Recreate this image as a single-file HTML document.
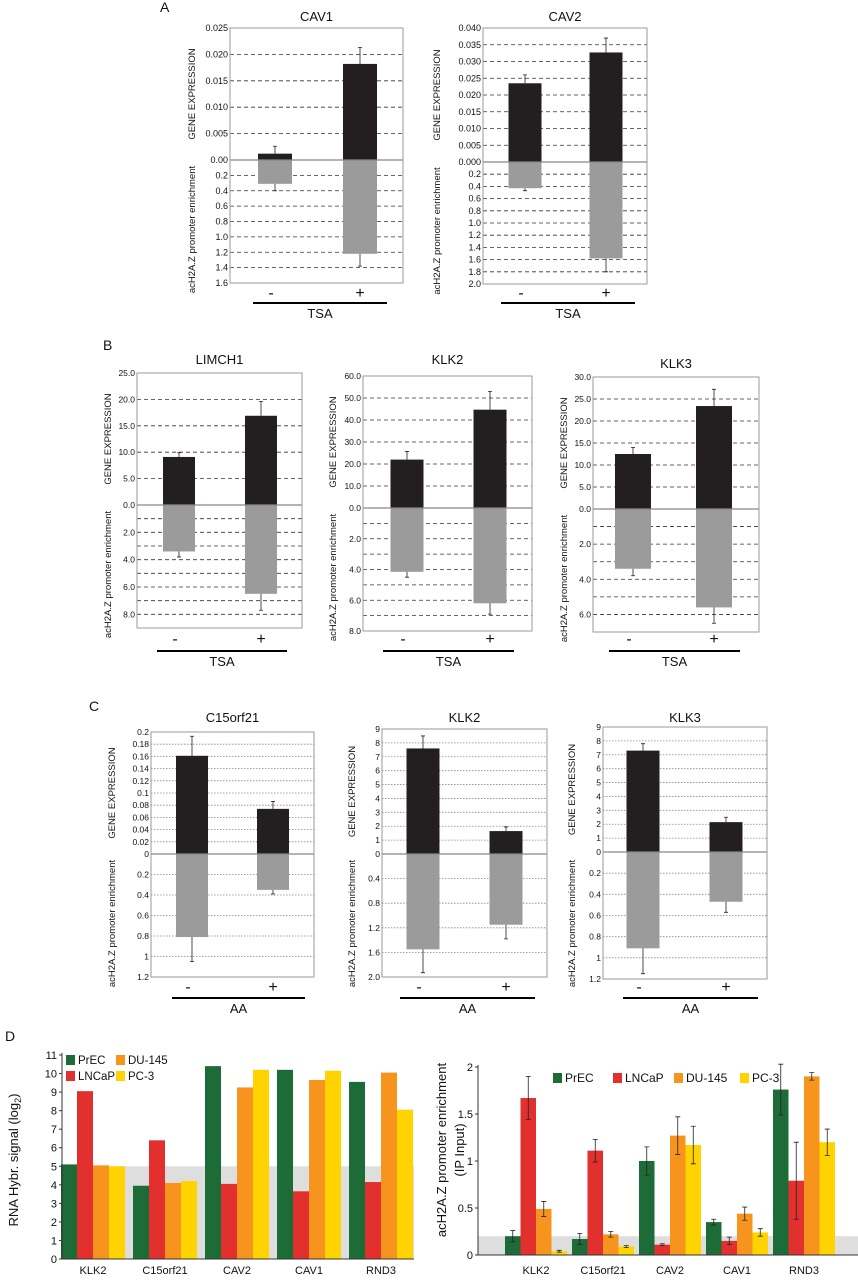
<!DOCTYPE html>
<html><head><meta charset="utf-8"><style>
body{margin:0;background:#fff}
svg{display:block;font-family:"Liberation Sans",Arial,sans-serif}
</style></head><body>
<svg id="fig" width="858" height="1280" viewBox="0 0 858 1280" xmlns="http://www.w3.org/2000/svg"></svg>
<script>
// ---------- Panel A/B/C data ----------
const cav1Up=[0.0012,0.0182], cav1UpErr=[0.0026,0.0213], cav1Down=[0.31,1.22], cav1DownErr=[0.40,1.38];
const cav2Up=[0.0235,0.0327], cav2UpErr=[0.026,0.037], cav2Down=[0.43,1.58], cav2DownErr=[0.47,1.80];
const limUp=[9.1,16.9], limUpErr=[9.9,19.6], limDown=[3.4,6.5], limDownErr=[3.8,7.7];
const bk2Up=[22,44.7], bk2UpErr=[25.7,53], bk2Down=[4.15,6.2], bk2DownErr=[4.5,6.9];
const bk3Up=[12.5,23.4], bk3UpErr=[14,27.2], bk3Down=[3.4,5.6], bk3DownErr=[3.8,6.5];
const c15Up=[0.161,0.074], c15UpErr=[0.193,0.086], c15Down=[0.81,0.35], c15DownErr=[1.05,0.39];
const ck2Up=[7.6,1.65], ck2UpErr=[8.5,1.95], ck2Down=[1.55,1.15], ck2DownErr=[1.93,1.38];
const ck3Up=[7.3,2.15], ck3UpErr=[7.8,2.5], ck3Down=[0.91,0.47], ck3DownErr=[1.15,0.57];
const cav1UpTicks=["0.00","0.005","0.010","0.015","0.020","0.025"], cav1DownTicks=["0.2","0.4","0.6","0.8","1.0","1.2","1.4","1.6"];
const cav2UpTicks=["0.000","0.005","0.010","0.015","0.020","0.025","0.030","0.035","0.040"], cav2DownTicks=["0.2","0.4","0.6","0.8","1.0","1.2","1.4","1.6","1.8","2.0"];
const limUpTicks=["0.0","5.0","10.0","15.0","20.0","25.0"];
const bk2UpTicks=["0.0","10.0","20.0","30.0","40.0","50.0","60.0"];
const bk3UpTicks=["0.0","5.0","10.0","15.0","20.0","25.0","30.0"];
const c15UpTicks=["0","0.02","0.04","0.06","0.08","0.1","0.12","0.14","0.16","0.18","0.2"], c15DownTicks=["0.2","0.4","0.6","0.8","1","1.2"];
const nineTicks=["0","1","2","3","4","5","6","7","8","9"];
const ck2DownTicks=["0.4","0.8","1.2","1.6","2.0"];
// ---------- Panel D data ----------
const dCats=["KLK2","C15orf21","CAV2","CAV1","RND3"];
const dSeries=["PrEC","LNCaP","DU-145","PC-3"];
const rnaPrEC=[5.1,3.95,10.4,10.2,9.55], rnaLNCaP=[9.05,6.4,4.05,3.65,4.15], rnaDU=[5.05,4.1,9.25,9.65,10.05], rnaPC3=[5.0,4.2,10.2,10.15,8.05];
const chPrEC=[0.2,0.17,1.0,0.35,1.76], chLNCaP=[1.67,1.11,0.11,0.15,0.79], chDU=[0.49,0.22,1.27,0.44,1.9], chPC3=[0.04,0.09,1.17,0.24,1.2];
const chPrECErr=[0.06,0.06,0.15,0.03,0.27], chLNCaPErr=[0.23,0.12,0.01,0.04,0.41], chDUErr=[0.08,0.03,0.2,0.07,0.04], chPC3Err=[0.01,0.01,0.2,0.04,0.14];
const rnaTicks=["0","1","2","3","4","5","6","7","8","9","10","11"];
const chTicks=["0","0.5","1","1.5","2"];

const NS="http://www.w3.org/2000/svg";
const svg=document.getElementById('fig');
function mk(tag,attrs,parent){const e=document.createElementNS(NS,tag);for(const k in attrs)e.setAttribute(k,attrs[k]);(parent||svg).appendChild(e);return e;}
function txt(x,y,s,size,anchor,parent,rot){const e=mk('text',{x:x,y:y,'font-size':size,'text-anchor':anchor||'middle',fill:'#111'},parent);if(rot)e.setAttribute('transform','rotate(-90 '+x+' '+y+')');e.textContent=s;return e;}

function mirror(c){
  const g=mk('g',{});
  
  
  const yU=v=>c.zero-(v/c.upMax)*(c.zero-c.top);
  const yD=v=>c.zero+(v/c.downMax)*(c.bottom-c.zero);
  const dash=c.dotted?{stroke:'#888','stroke-dasharray':'1.5,1.5','stroke-width':0.8}:{stroke:'#333','stroke-dasharray':'4,3','stroke-width':0.8};
  c.upLabels.forEach((l,i)=>{const v=i*c.upStep;const y=yU(v);
    if(i>0&&i<c.upLabels.length-1){const ln=mk('line',Object.assign({x1:c.x0,x2:c.x1,y1:y,y2:y},dash),g);}
    const t=txt(c.x0-2,y+3,l,c.fs||9,'end',g);});
  for(let i=1;i*c.downGrid<c.downMax-1e-9;i++){const y=yD(i*c.downGrid);const ln=mk('line',Object.assign({x1:c.x0,x2:c.x1,y1:y,y2:y},dash),g);}
  c.downLabels.forEach((l,i)=>{const y=yD((i+1)*c.downStep);const t=txt(c.x0-2,y+3,l,c.fs||9,'end',g);});
  c.centers.forEach((cx,i)=>{
    const bu=mk('rect',{x:cx-c.w/2,y:yU(c.up[i]),width:c.w,height:c.zero-yU(c.up[i]),fill:'#231f20'},g);
    
    const bd=mk('rect',{x:cx-c.w/2,y:c.zero,width:c.w,height:yD(c.down[i])-c.zero,fill:'#9b9b9b'},g);
    
    const e1=mk('path',{d:`M${cx} ${yU(c.up[i])}V${yU(c.upErr[i])}M${cx-2} ${yU(c.upErr[i])}H${cx+2}`,stroke:'#222','stroke-width':0.8,fill:'none'},g);
    
    const e2=mk('path',{d:`M${cx} ${yD(c.down[i])}V${yD(c.downErr[i])}M${cx-2} ${yD(c.downErr[i])}H${cx+2}`,stroke:'#222','stroke-width':0.8,fill:'none'},g);
    
  });
  const zl=mk('line',{x1:c.x0,x2:c.x1,y1:c.zero,y2:c.zero,stroke:'#888','stroke-width':1.3},g);
  
  const bx=mk('rect',{x:c.x0,y:c.top,width:c.x1-c.x0,height:c.bottom-c.top,fill:'none',stroke:'#999','stroke-width':1},g);
  
  const ti=txt((c.x0+c.x1)/2,c.ty,c.title,c.tfs||13,'middle',g);
  
  const ya=txt(c.ylx,(c.top+c.zero)/2,'GENE EXPRESSION',9.5,'middle',g,true);
  
  const yb=txt(c.ylx,(c.zero+c.bottom)/2+8,'acH2A.Z promoter enrichment',9.5,'middle',g,true);
  
  const m=txt(c.centers[0]-4,c.pmY,'-',16,'middle',g);
  const p=txt(c.centers[1],c.pmY,'+',16,'middle',g);
  const tl=mk('line',{x1:c.lx0,x2:c.lx1,y1:c.lineY,y2:c.lineY,stroke:'#000','stroke-width':2},g);
  
  const tt=txt((c.lx0+c.lx1)/2,c.lineY+15,c.treat,13,'middle',g);
  
}

mirror({name:'chart-a-cav1',title:'CAV1',x0:230,x1:403,top:28,zero:160,bottom:283,upMax:0.025,upStep:0.005,upLabels:cav1UpTicks,downMax:1.6,downGrid:0.2,downStep:0.2,downLabels:cav1DownTicks,centers:[275,360],w:34,up:cav1Up,upErr:cav1UpErr,down:cav1Down,downErr:cav1DownErr,ty:21,ylx:195,pmY:298,lx0:253,lx1:387,lineY:303,treat:'TSA'});
mirror({name:'chart-a-cav2',title:'CAV2',x0:483,x1:647,top:28,zero:162,bottom:284,upMax:0.040,upStep:0.005,upLabels:cav2UpTicks,downMax:2.0,downGrid:0.2,downStep:0.2,downLabels:cav2DownTicks,centers:[525,606],w:33,up:cav2Up,upErr:cav2UpErr,down:cav2Down,downErr:cav2DownErr,ty:21,ylx:440,pmY:298,lx0:501,lx1:635,lineY:303,treat:'TSA'});
mirror({name:'chart-b-limch1',title:'LIMCH1',x0:137,x1:302,top:373,zero:505,bottom:628,upMax:25,upStep:5,upLabels:limUpTicks,downMax:9,downGrid:1,downStep:2,downLabels:["2.0","4.0","6.0","8.0"],centers:[179,261],w:32,up:limUp,upErr:limUpErr,down:limDown,downErr:limDownErr,ty:364,ylx:111,pmY:644,lx0:157,lx1:287,lineY:651,treat:'TSA',fs:8.5});
mirror({name:'chart-b-klk2',title:'KLK2',x0:363,x1:532,top:376,zero:508,bottom:631,upMax:60,upStep:10,upLabels:bk2UpTicks,downMax:8,downGrid:1,downStep:2,downLabels:["2.0","4.0","6.0","8.0"],centers:[407,490],w:33,up:bk2Up,upErr:bk2UpErr,down:bk2Down,downErr:bk2DownErr,ty:364,ylx:336,pmY:644,lx0:383,lx1:514,lineY:651,treat:'TSA',fs:8.5});
mirror({name:'chart-b-klk3',title:'KLK3',x0:593,x1:759,top:377,zero:509,bottom:632,upMax:30,upStep:5,upLabels:bk3UpTicks,downMax:7,downGrid:1,downStep:2,downLabels:["2.0","4.0","6.0"],centers:[633,714],w:36,up:bk3Up,upErr:bk3UpErr,down:bk3Down,downErr:bk3DownErr,ty:368,ylx:567,pmY:644,lx0:609,lx1:740,lineY:651,treat:'TSA',fs:8.5});
mirror({name:'chart-c-c15orf21',title:'C15orf21',x0:151,x1:314,top:732,zero:854,bottom:977,upMax:0.2,upStep:0.02,upLabels:c15UpTicks,downMax:1.2,downGrid:0.2,downStep:0.2,downLabels:c15DownTicks,centers:[192,273],w:32,up:c15Up,upErr:c15UpErr,down:c15Down,downErr:c15DownErr,ty:722,ylx:115,pmY:992,lx0:172,lx1:305,lineY:998,treat:'AA',dotted:true,fs:8.5});
mirror({name:'chart-c-klk2',title:'KLK2',x0:382,x1:547,top:729,zero:854,bottom:977,upMax:9,upStep:1,upLabels:nineTicks,downMax:2.0,downGrid:0.4,downStep:0.4,downLabels:ck2DownTicks,centers:[423,506],w:33,up:ck2Up,upErr:ck2UpErr,down:ck2Down,downErr:ck2DownErr,ty:722,ylx:355,pmY:992,lx0:400,lx1:535,lineY:998,treat:'AA',dotted:true,fs:8.5});
mirror({name:'chart-c-klk3',title:'KLK3',x0:603,x1:767,top:727,zero:852,bottom:979,upMax:9,upStep:1,upLabels:nineTicks,downMax:1.2,downGrid:0.2,downStep:0.2,downLabels:c15DownTicks,centers:[643,726],w:33,up:ck3Up,upErr:ck3UpErr,down:ck3Down,downErr:ck3DownErr,ty:722,ylx:575,pmY:992,lx0:623,lx1:758,lineY:998,treat:'AA',dotted:true,fs:8.5});

[['A',160,12],['B',103,350],['C',89,711],['D',5,1041]].forEach(a=>{const t=txt(a[1],a[2],a[0],14,'start');});

// ---------- Panel D ----------
const colors=['#1d6b36','#e2302f','#f7941d','#ffd300'];
function groupBars(o){
  const g=mk('g',{});
  
  
  const y=v=>o.y0-(v/o.max)*(o.y0-o.yTop);
  const band=mk('rect',{x:o.x0,y:y(o.band),width:o.x1-o.x0,height:o.y0-y(o.band),fill:'#dedede'},g);
  
  o.ticks.forEach((l,i)=>{const v=i*o.step;const t=txt(o.x0-5,y(v)+4,l,11,'end',g);
    const tk=mk('line',{x1:o.x0-3,x2:o.x0,y1:y(v),y2:y(v),stroke:'#333'},g);});
  dCats.forEach((c,ci)=>{const cx=o.c0+ci*o.pitch;
    o.series.forEach((s,si)=>{const bx=cx-o.bw*2+si*o.bw;
      const r=mk('rect',{x:bx,y:y(s[ci]),width:o.bw,height:o.y0-y(s[ci]),fill:colors[si]},g);
      
      if(o.errs){const e=o.errs[si][ci],m=bx+o.bw/2;
        const p=mk('path',{d:`M${m} ${y(s[ci]-e)}V${y(s[ci]+e)}M${m-2.5} ${y(s[ci]-e)}H${m+2.5}M${m-2.5} ${y(s[ci]+e)}H${m+2.5}`,stroke:'#222','stroke-width':0.8,fill:'none'},g);
        }
    });
    const t=txt(cx,1274,c,11,'middle',g);
  });
  const ax=mk('path',{d:`M${o.x0} ${o.yTop-2}V${o.y0}H${o.x1}`,stroke:'#333',fill:'none','stroke-width':1},g);
  
  o.legend.forEach((L,i)=>{const r=mk('rect',{x:L[0],y:L[1]-9,width:9,height:10,fill:colors[i]},g);
    const t=txt(L[0]+12,L[1],dSeries[i],o.lfs||12,'start',g);});
}
groupBars({name:'chart-d-rna',x0:62,x1:414,y0:1259,yTop:1055,max:11,step:1,ticks:rnaTicks,band:5,c0:93,pitch:72,bw:16,series:[rnaPrEC,rnaLNCaP,rnaDU,rnaPC3],legend:[[66,1064],[66,1080],[116,1064],[116,1080]],lfs:11.5});
groupBars({name:'chart-d-enrichment',x0:478,x1:858,y0:1255,yTop:1067,max:2,step:0.5,ticks:chTicks,band:0.2,c0:536,pitch:67,bw:15.5,series:[chPrEC,chLNCaP,chDU,chPC3],errs:[chPrECErr,chLNCaPErr,chDUErr,chPC3Err],legend:[[553,1082],[613,1082],[674,1082],[740,1082]]});
let t1=txt(18,1160,'RNA Hybr. signal (log',13,'middle',null,true);

const sub=mk('tspan',{'font-size':9,dy:3},t1);sub.textContent='2';
const sub2=mk('tspan',{dy:-3},t1);sub2.textContent=')';
const t2=txt(446,1150,'acH2A.Z promoter enrichment',13,'middle',null,true);

const t3=txt(464,1150,'(IP Input)',13,'middle',null,true);

</script>
</body></html>
